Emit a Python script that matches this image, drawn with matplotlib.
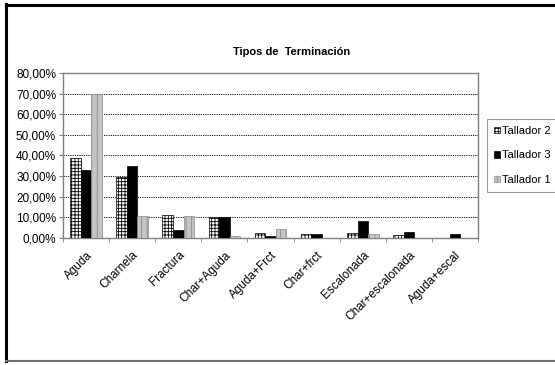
import matplotlib.pyplot as plt
import numpy as np
from matplotlib.lines import Line2D
from matplotlib.ticker import FuncFormatter

plt.rcParams["font.family"] = ["Liberation Sans", "DejaVu Sans"]
plt.rcParams["hatch.linewidth"] = 0.6

categories = ["Aguda", "Charnela", "Fractura", "Char+Aguda", "Aguda+Frct",
              "Char+frct", "Escalonada", "Char+escalonada", "Aguda+escal"]
tallador2 = [39.0, 29.5, 11.0, 10.0, 2.5, 2.0, 2.5, 1.5, 0.0]
tallador3 = [33.0, 35.0, 4.0, 10.0, 1.0, 2.0, 8.0, 3.0, 2.0]
tallador1 = [70.0, 10.5, 10.5, 1.0, 4.5, 0.0, 2.0, 0.0, 0.0]

fig = plt.figure(figsize=(5.55, 3.65), dpi=100)
ax = fig.add_axes([0.1135, 0.348, 0.748, 0.452])

x = np.arange(len(categories))
w = 0.23
ax.bar(x - w, tallador2, w, color="white", edgecolor="black", hatch="+++++",
       linewidth=0.5, label="Tallador 2", zorder=3)
ax.bar(x, tallador3, w, color="black", edgecolor="black",
       linewidth=0.5, label="Tallador 3", zorder=3)
ax.bar(x + w, tallador1, w, color="#c4c4c4", edgecolor="#8a8a8a", hatch="|||",
       linewidth=0.5, label="Tallador 1", zorder=3)

ax.set_xlim(-0.5, len(categories) - 0.5)
ax.set_ylim(0, 80)
ax.set_yticks(np.arange(0, 81, 10))
ax.yaxis.set_major_formatter(FuncFormatter(lambda v, p: f"{v:.2f}%".replace(".", ",")))
ax.grid(axis="y", color="black", linestyle=(0, (1.5, 1.2)), linewidth=0.6, zorder=1)

ax.set_xticks(x)
ax.set_xticklabels(categories, rotation=45, ha="right", rotation_mode="anchor")
ax.set_xticks(np.arange(-0.5, len(categories)), minor=True)
ax.tick_params(axis="x", which="major", length=0, labelsize=8.5, pad=8)
ax.tick_params(axis="x", which="minor", length=3, color="#808080")
ax.tick_params(axis="y", length=3, labelsize=8.5, color="#808080", pad=2)
for s in ax.spines.values():
    s.set_color("#808080")
    s.set_linewidth(1.0)

fig.text(0.525, 0.857, "Tipos de  Terminación", ha="center", va="center",
         fontsize=8, fontweight="bold")

leg = ax.legend(loc="center left", bbox_to_anchor=(1.022, 0.50), fontsize=8,
                frameon=True, fancybox=False, edgecolor="#808080",
                handlelength=0.55, handleheight=0.55, handletextpad=0.2,
                labelspacing=1.3, borderpad=0.6, borderaxespad=0)
leg.get_frame().set_linewidth(0.8)

# outer chart frame (left, top, bottom)
fig.add_artist(Line2D([0.011, 0.011], [0.01, 0.988], color="black", lw=2.2))
fig.add_artist(Line2D([0.011, 1.0], [0.986, 0.986], color="black", lw=2.2))
fig.add_artist(Line2D([0.011, 1.0], [0.01, 0.01], color="#707070", lw=1.5))

fig.savefig("out.png", dpi=100, facecolor="white")
